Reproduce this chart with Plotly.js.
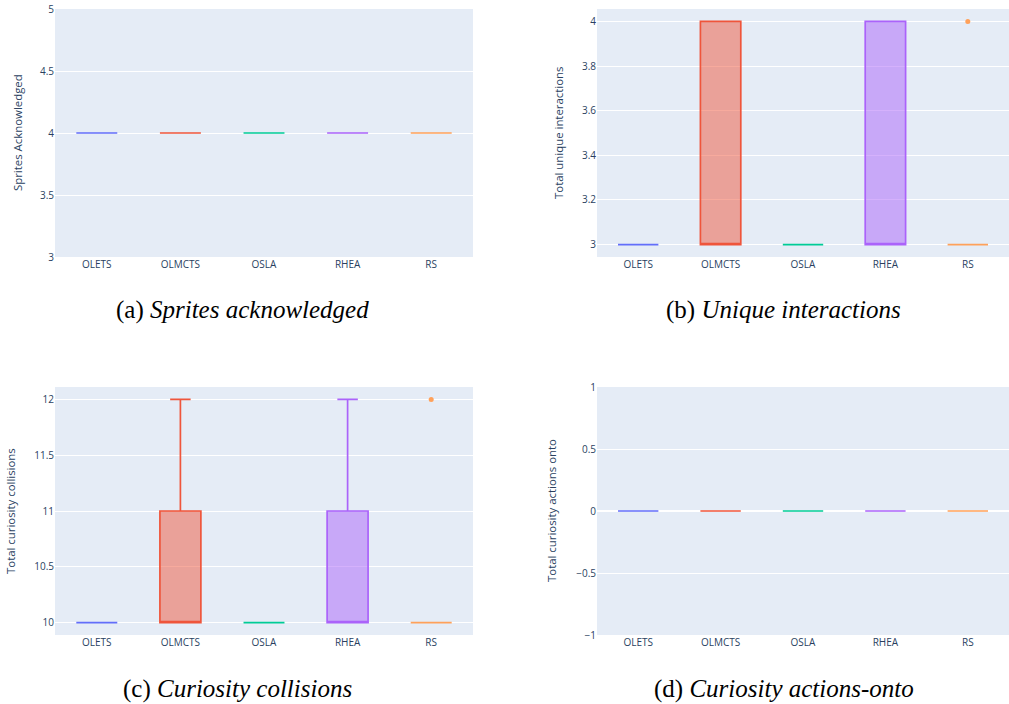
<!DOCTYPE html>
<html>
<head>
<meta charset="utf-8">
<script src="https://cdn.plot.ly/plotly-3.0.1.min.js"></script>
<style>html,body{margin:0;padding:0;background:#fff;}#chart{width:1009px;height:704px;}</style>
</head>
<body>
<div id="chart"></div>
<script>
// Categories (agents) and colours
const agents = ["OLETS", "OLMCTS", "OSLA", "RHEA", "RS"];
const colors = ["#636efa", "#EF553B", "#00cc96", "#ab63fa", "#FFA15A"];

// (a) Sprites acknowledged
const spritesOLETS  = [4, 4, 4, 4, 4];
const spritesOLMCTS = [4, 4, 4, 4, 4];
const spritesOSLA   = [4, 4, 4, 4, 4];
const spritesRHEA   = [4, 4, 4, 4, 4];
const spritesRS     = [4, 4, 4, 4, 4];

// (b) Unique interactions
const uniqueOLETS  = [3, 3, 3, 3, 3];
const uniqueOLMCTS = [3, 3, 3, 4, 4];
const uniqueOSLA   = [3, 3, 3, 3, 3];
const uniqueRHEA   = [3, 3, 3, 4, 4];
const uniqueRS     = [3, 3, 3, 3, 4];

// (c) Curiosity collisions
const collOLETS  = [10, 10, 10, 10, 10];
const collOLMCTS = [10, 10, 10, 11, 12];
const collOSLA   = [10, 10, 10, 10, 10];
const collRHEA   = [10, 10, 10, 11, 12];
const collRS     = [10, 10, 10, 10, 12];

// (d) Curiosity actions-onto
const ontoOLETS  = [0, 0, 0, 0, 0];
const ontoOLMCTS = [0, 0, 0, 0, 0];
const ontoOSLA   = [0, 0, 0, 0, 0];
const ontoRHEA   = [0, 0, 0, 0, 0];
const ontoRS     = [0, 0, 0, 0, 0];

const panels = [
  {series: [spritesOLETS, spritesOLMCTS, spritesOSLA, spritesRHEA, spritesRS], ytitle: "Sprites Acknowledged", caption: "(a) <i>Sprites acknowledged</i>"},
  {series: [uniqueOLETS, uniqueOLMCTS, uniqueOSLA, uniqueRHEA, uniqueRS], ytitle: "Total unique interactions", caption: "(b) <i>Unique interactions</i>"},
  {series: [collOLETS, collOLMCTS, collOSLA, collRHEA, collRS], ytitle: "Total curiosity collisions", caption: "(c) <i>Curiosity collisions</i>"},
  {series: [ontoOLETS, ontoOLMCTS, ontoOSLA, ontoRHEA, ontoRS], ytitle: "Total curiosity actions onto", caption: "(d) <i>Curiosity actions-onto</i>"}
];

const W = 1009, H = 704;
// plot areas in pixels [x0, x1, yTop, yBottom]
const areas = [
  [55, 473, 9, 257],
  [597, 1009, 9, 257],
  [55, 473, 387, 635],
  [597, 1009, 387, 635]
];
const ytitleX = [17, 558, 10, 551];
const captionPos = [[242, 310], [783, 310], [237, 689], [784, 689]];

const traces = [];
const layout = {
  width: W, height: H,
  margin: {l: 0, r: 0, t: 0, b: 0},
  paper_bgcolor: "#ffffff",
  plot_bgcolor: "#E5ECF6",
  font: {family: "Open Sans, Arial, sans-serif", color: "#2a3f5f", size: 10},
  showlegend: false,
  boxgap: 0.3,
  annotations: []
};

panels.forEach((p, i) => {
  const n = i + 1;
  const xa = "x" + (n === 1 ? "" : n), ya = "y" + (n === 1 ? "" : n);
  p.series.forEach((vals, j) => {
    traces.push({
      type: "box",
      name: agents[j],
      x: vals.map(() => agents[j]),
      y: vals,
      xaxis: xa, yaxis: ya,
      quartilemethod: "inclusive",
      marker: {color: colors[j], size: 5},
      line: {color: colors[j], width: 1.7},
      boxpoints: "outliers"
    });
  });
  const a = areas[i];
  layout["xaxis" + (n === 1 ? "" : n)] = {
    domain: [a[0] / W, a[1] / W],
    anchor: ya,
    type: "category",
    categoryorder: "array",
    categoryarray: agents,
    showgrid: false,
    zeroline: false,
    ticks: "",
    tickfont: {size: 10, color: "#2a3f5f"}
  };
  layout["yaxis" + (n === 1 ? "" : n)] = {
    domain: [(H - a[3]) / H, (H - a[2]) / H],
    anchor: xa,
    gridcolor: "#ffffff",
    gridwidth: 1,
    zerolinecolor: "#ffffff",
    zerolinewidth: 2,
    ticks: "",
    tickfont: {size: 10, color: "#2a3f5f"}
  };
  layout.annotations.push({
    xref: "paper", yref: "paper",
    x: ytitleX[i] / W, y: (H - (a[2] + a[3]) / 2) / H,
    text: p.ytitle, textangle: -90, showarrow: false,
    xanchor: "center", yanchor: "middle",
    font: {size: 11.4, color: "#2a3f5f", family: "Open Sans, Arial, sans-serif"}
  });
  layout.annotations.push({
    xref: "paper", yref: "paper",
    x: captionPos[i][0] / W, y: (H - captionPos[i][1]) / H,
    text: p.caption, showarrow: false,
    xanchor: "center", yanchor: "middle",
    font: {size: 25, color: "#000000", family: "Liberation Serif, DejaVu Serif, serif"}
  });
});

layout.yaxis.range = [3, 5];
layout.yaxis4.range = [-1, 1];

Plotly.newPlot("chart", traces, layout, {displayModeBar: false, staticPlot: true});
</script>
</body>
</html>
